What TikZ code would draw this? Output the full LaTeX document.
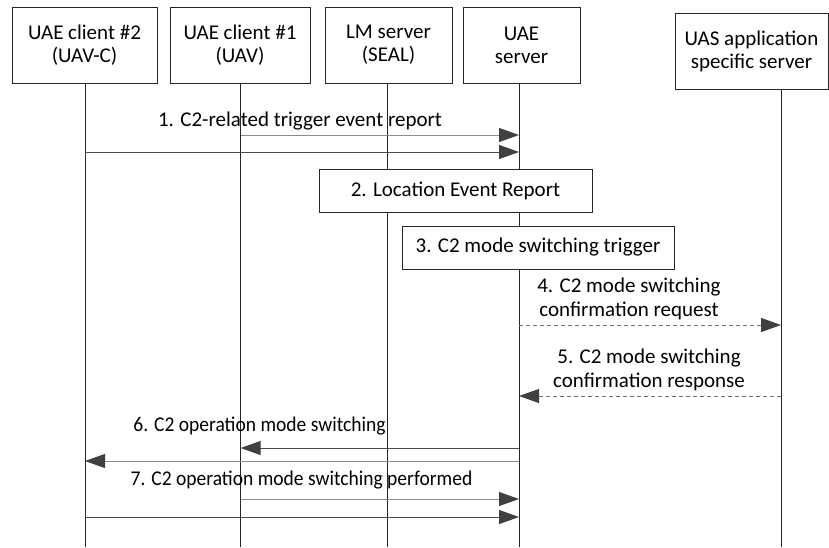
\documentclass[tikz,border=0pt]{standalone}
\usepackage{fontspec}
\usepackage{graphicx}
\setmainfont{Carlito}
\usetikzlibrary{arrows.meta}
\begin{document}
\begin{tikzpicture}[x=1pt,y=-1pt,
  every node/.style={font=\fontsize{21}{23}\selectfont, inner sep=0pt},
  actor/.style={draw=black!85, line width=0.9pt, minimum height=76pt, align=center},
  procbox/.style={draw=black!85, line width=0.9pt, minimum height=43pt},
  life/.style={draw=black!85, line width=0.9pt},
  tip/.style={arrows={-{Triangle[length=20pt,width=14pt,fill=black!75,color=black!75]}}},
  msgA/.style={draw=black!45, line width=1pt, tip},
  msgB/.style={draw=black!70, line width=1pt, tip},
  msgD/.style={draw=black!55, line width=1pt, dash pattern=on 4pt off 3pt, tip},
  lbl/.style={align=center, font=\fontsize{21}{24}\selectfont}]
\useasboundingbox (0,0) rectangle (829,547);
% actors
\node[actor, minimum width=145pt] (b1) at (84.5,45) {UAE client \#2\\(UAV-C)};
\node[actor, minimum width=140pt] (b2) at (240,45) {UAE client \#1\\(UAV)};
\node[actor, minimum width=127pt] (b3) at (388.5,45) {LM server\\(SEAL)};
\node[actor, minimum width=117pt] (b4) at (521.5,45) {UAE\\server};
\node[actor, minimum width=153pt] (b5) at (751.5,51) {UAS application\\specific server};
% lifeline ends
\coordinate (e1) at (85,547);
\coordinate (e2) at (240.7,547);
\coordinate (e3) at (387,547);
\coordinate (e4) at (519,547);
\coordinate (e5) at (781,547);
\draw[life] (b1.south -| e1) -- (e1);
\draw[life] (b2.south -| e2) -- (e2);
\draw[life] (b3.south -| e3) -- (e3);
\draw[life] (b4.south -| e4) -- (e4);
\draw[life] (b5.south -| e5) -- (e5);
% process boxes
\node[procbox, minimum width=273pt, fill=white] (p2) at (455.5,190.5) {2. Location Event Report};
\node[procbox, minimum width=272pt, fill=white] (p3) at (538,247.5) {3. C2 mode switching trigger};
% message endpoints
\coordinate (m1a) at (240.7,135); \coordinate (m1b) at (519,135);
\coordinate (m1c) at (85,152);    \coordinate (m1d) at (519,152);
\coordinate (m4a) at (519,325);   \coordinate (m4b) at (781,325);
\coordinate (m5a) at (781,396);   \coordinate (m5b) at (519,396);
\coordinate (m6a) at (519,448);   \coordinate (m6b) at (240.7,448);
\coordinate (m6c) at (519,461);   \coordinate (m6d) at (85,461);
\coordinate (m7a) at (240.7,499); \coordinate (m7b) at (519,499);
\coordinate (m7c) at (85,517);    \coordinate (m7d) at (519,517);
% messages
\draw[msgA] (m1a) -- (m1b);
\draw[msgB] (m1c) -- (m1d);
\draw[msgD] (m4a) -- (m4b);
\draw[msgD] (m5a) -- (m5b);
\draw[msgB] (m6a) -- (m6b);
\draw[msgA] (m6c) -- (m6d);
\draw[msgA] (m7a) -- (m7b);
\draw[msgB] (m7c) -- (m7d);
% labels
\node[lbl] (t1) at (300,121) {1. C2-related trigger event report};
\node[lbl] (t4) at (629,299) {4. C2 mode switching\\confirmation request};
\node[lbl] (t5) at (649,370) {5. C2 mode switching\\confirmation response};
\node[lbl] (t6) at (259.5,426) {\scalebox{0.93}[1]{6. C2 operation mode switching}};
\node[lbl] (t7) at (301.5,480) {\scalebox{0.93}[1]{7. C2 operation mode switching performed}};
\end{tikzpicture}
\end{document}
